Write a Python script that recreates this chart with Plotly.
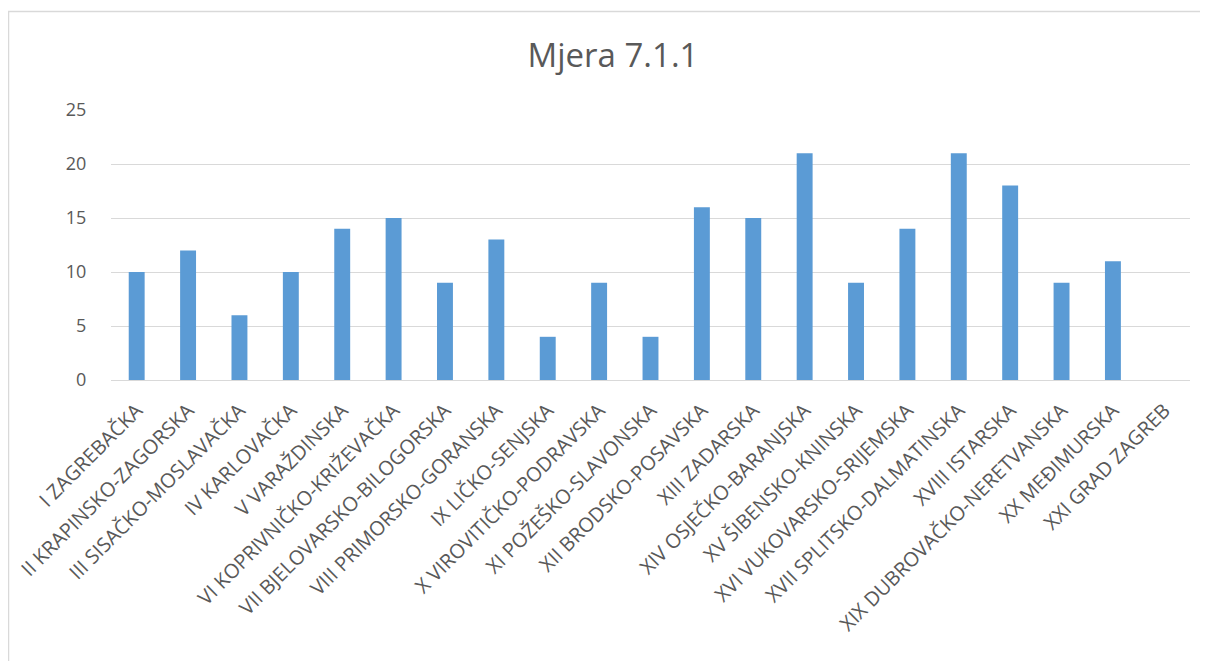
import plotly.graph_objects as go

categories = [
    "I ZAGREBAČKA", "II KRAPINSKO-ZAGORSKA", "III SISAČKO-MOSLAVAČKA", "IV KARLOVAČKA",
    "V VARAŽDINSKA", "VI KOPRIVNIČKO-KRIŽEVAČKA", "VII BJELOVARSKO-BILOGORSKA",
    "VIII PRIMORSKO-GORANSKA", "IX LIČKO-SENJSKA", "X VIROVITIČKO-PODRAVSKA",
    "XI POŽEŠKO-SLAVONSKA", "XII BRODSKO-POSAVSKA", "XIII ZADARSKA",
    "XIV OSJEČKO-BARANJSKA", "XV ŠIBENSKO-KNINSKA", "XVI VUKOVARSKO-SRIJEMSKA",
    "XVII SPLITSKO-DALMATINSKA", "XVIII ISTARSKA", "XIX DUBROVAČKO-NERETVANSKA",
    "XX MEĐIMURSKA", "XXI GRAD ZAGREB",
]
values = [10, 12, 6, 10, 14, 15, 9, 13, 4, 9, 4, 16, 15, 21, 9, 14, 21, 18, 9, 11, 0]
y_ticks = [0, 5, 10, 15, 20, 25]
title_text = "Mjera 7.1.1"

font_family = "Open Sans, Liberation Sans, sans-serif"
text_color = "#595959"

fig = go.Figure(go.Bar(x=categories, y=values, marker=dict(color="#5B9BD5", line=dict(width=0))))

OFF = 8  # page body margin
W, H = 1208, 661
L = 111 - OFF
R = W - (1190 - OFF)
T = 110 - OFF
B = H - (380 - OFF)
pw, ph = W - L - R, H - T - B

fig.update_layout(
    width=W, height=H,
    margin=dict(l=L, r=R, t=T, b=B, autoexpand=False),
    paper_bgcolor="white", plot_bgcolor="white",
    bargap=0.69,
    showlegend=False,
    title=dict(text=title_text, x=(613 - OFF) / W, xanchor="center",
               y=1 - (55 - OFF) / H, yanchor="middle",
               font=dict(family=font_family, size=33, color=text_color)),
    font=dict(family=font_family, color=text_color),
    xaxis=dict(tickangle=-45, tickfont=dict(size=20, color=text_color),
               showgrid=False, showline=True, linecolor="#D9D9D9", linewidth=1,
               ticks="outside", ticklen=10, tickcolor="rgba(0,0,0,0)", automargin=False),
    yaxis=dict(range=[0, 25], tickvals=y_ticks, tickfont=dict(size=18, color=text_color),
               showgrid=True, gridcolor="#D9D9D9", gridwidth=1, zeroline=False,
               showline=False, ticks="outside", ticklen=20, tickcolor="rgba(0,0,0,0)",
               automargin=False),
    shapes=[dict(type="rect", xref="paper", yref="paper",
                 x0=(8.5 - OFF - L) / pw, x1=(1300 - L) / pw,
                 y0=(H - B - 700) / ph, y1=(H - B - (11.5 - OFF)) / ph,
                 line=dict(color="#D9D9D9", width=1.5), fillcolor="rgba(0,0,0,0)",
                 layer="below")],
)

fig.write_html("out.html")
